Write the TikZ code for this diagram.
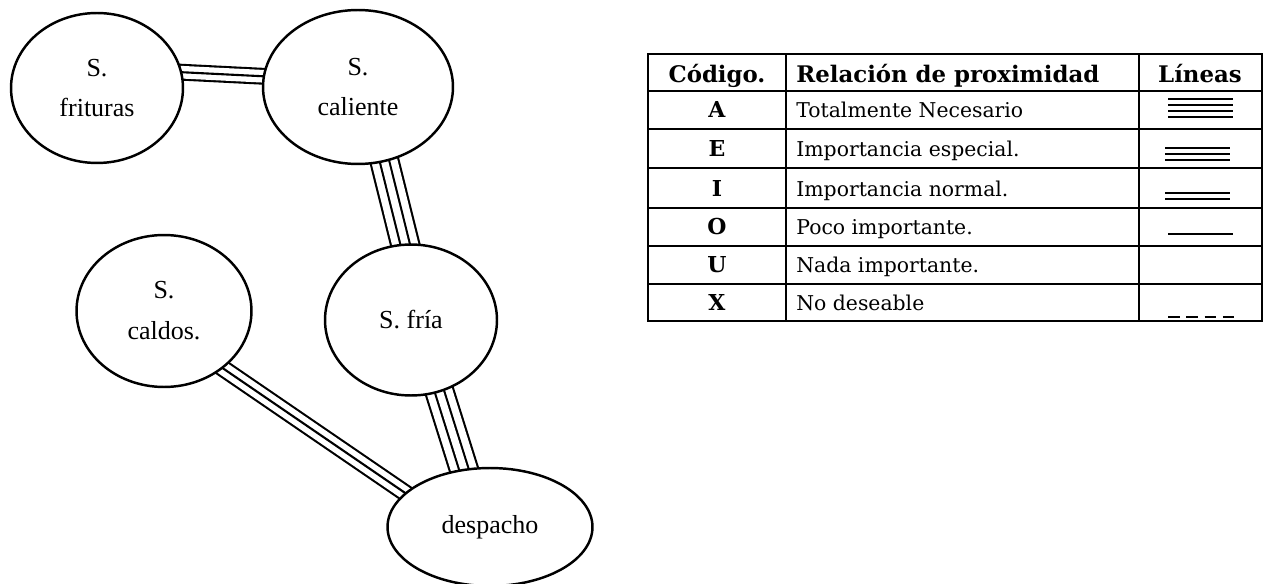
\documentclass[tikz,border=0pt]{standalone}
\usepackage{fontspec}
\setmainfont{Liberation Serif}
\newfontfamily\tablafont{DejaVu Serif}
\usetikzlibrary{shapes.geometric,backgrounds}

\begin{document}
\begin{tikzpicture}[
    x=0.02cm, y=-0.02cm,
    every node/.style={text=black},
    area/.style={ellipse, draw, line width=1.4pt, fill=white, inner sep=0pt,
        font=\fontsize{14.8}{23.3}\selectfont, align=center},
    lin2/.style 2 args={draw, line width=#1+#2,
        postaction={draw=white, line width=#1-#2}},
    lin3/.style 2 args={draw, line width=2*#1+#2,
        postaction={draw=white, line width=2*#1-#2},
        postaction={draw=black, line width=#2}},
    lin4/.style 2 args={draw, line width=3*#1+#2,
        postaction={draw=white, line width=3*#1-#2},
        postaction={draw=black, line width=#1+#2},
        postaction={draw=white, line width=#1-#2}},
    grid/.style={line width=1.3pt},
    cab/.style={font=\tablafont\bfseries\fontsize{13}{15}\selectfont,
        anchor=base, inner sep=0pt},
    cod/.style={font=\tablafont\bfseries\fontsize{12.5}{14}\selectfont,
        anchor=base, inner sep=0pt},
    rel/.style={font=\tablafont\fontsize{11.6}{13}\selectfont,
        anchor=base west, inner sep=0pt},
]
\useasboundingbox (0,0) rectangle (1264,584);

% Areas
\node[area, minimum width=3.44cm, minimum height=3.0cm] (fritur) at (97,88) {S.\\frituras};
\node[area, minimum width=3.8cm, minimum height=3.08cm] (calien) at (358,87) {S.\\caliente};
\node[area, minimum width=3.5cm, minimum height=3.04cm] (caldos) at (164,311) {S.\\caldos.};
\node[area, minimum width=3.44cm, minimum height=3.02cm] (fria) at (411,320) {S. fría};
\node[area, minimum width=4.1cm, minimum height=2.36cm] (despa) at (490,527) {despacho};

% Relaciones
\begin{scope}[on background layer]
\draw[lin3={4.2pt}{1.2pt}] ([shift={(0,-20)}]fritur.center) -- ([shift={(0,-6)}]calien.center);
\draw[lin4={5.3pt}{1.2pt}] ([shift={(8,0)}]calien.center) -- ([shift={(13,0)}]fria.center);
\draw[lin4={5.3pt}{1.2pt}] ([shift={(6,0)}]fria.center) -- ([shift={(-8,0)}]despa.center);
\draw[lin3={4.4pt}{1.2pt}] ([shift={(0,17)}]caldos.center) -- ([shift={(0,24)}]despa.center);
\end{scope}

% Tabla
\draw[grid] (648,54) rectangle (1262,321);
\foreach \y in {91,129,168,208,246,284}
    \draw[grid] (648,\y) -- (1262,\y);
\draw[grid] (786,54) -- (786,321) (1139,54) -- (1139,321);

\node[cab] (hcod) at (717,83) {Código.};
\node[cab, anchor=base west] (hrel) at (796,83) {Relación de proximidad};
\node[cab] (hlin) at (1200,83) {Líneas};

\foreach \c/\t/\y [count=\i] in {A/Totalmente Necesario/118,
    E/Importancia especial./157, I/Importancia normal./197,
    O/Poco importante./235, U/Nada importante./273, X/No deseable/310} {
    \node[cod] (cod\i) at (717,\y) {\c};
    \node[rel] (rel\i) at (796,\y) {\t};
}

% Lineas
\draw[lin4={3.4pt}{1.5pt}] (1168,108) -- (1233,108);
\draw[lin3={3.4pt}{1.5pt}] (1165,154) -- (1230,154);
\draw[lin2={3.4pt}{1.5pt}] (1165,196) -- (1230,196);
\draw[line width=1.5pt] (1168,234) -- (1233,234);
\draw[line width=1.4pt, dash pattern=on 6.6pt off 3.8pt] (1168,317) -- (1237,317);

\end{tikzpicture}
\end{document}
